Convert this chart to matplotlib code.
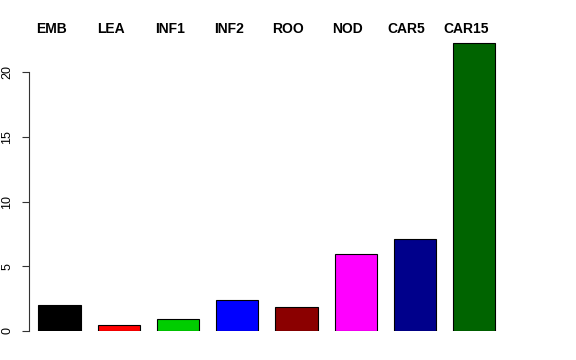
import matplotlib
matplotlib.use("Agg")
import matplotlib.pyplot as plt
import numpy as np

# bar heights
labels = ["EMB", "LEA", "INF1", "INF2", "ROO", "NOD", "CAR5", "CAR15"]
values = [2.0, 0.47, 0.9, 2.4, 1.88, 5.95, 7.11, 22.3]
colors = ["black", "red", "#00CD00", "blue", "#8B0000", "magenta", "#00008B", "#006400"]
yticks = [0, 5, 10, 15, 20]

plt.rcParams['font.family'] = ['Liberation Sans', 'DejaVu Sans']

fig = plt.figure(figsize=(5.76, 3.6), dpi=100)
# plot region placed to match the R device layout
ax = fig.add_axes([29 / 576, 29 / 360, (553 - 29) / 576, 300 / 360])

x = np.arange(len(values))
ax.bar(x, values, width=0.71, color=colors, edgecolor="black", linewidth=0.8)

ax.set_xlim(-0.515, 8.33)
ax.set_ylim(0, 23.2)

# R style axis: left only, spanning the tick range
for side in ["top", "right", "bottom"]:
    ax.spines[side].set_visible(False)
ax.spines["left"].set_bounds(0, 20)
ax.spines["left"].set_color("#333333")
ax.set_xticks([])
ax.set_yticks(yticks)
ax.set_yticklabels([str(t) for t in yticks], rotation=90, va="center", fontsize=9)
ax.tick_params(axis="y", length=5, pad=6.5, color="#333333")

# group names above the plot
for xi, lab in zip(x, labels):
    ax.text(xi - 0.14, 1.007, lab, transform=ax.get_xaxis_transform(),
            ha="center", va="center", fontsize=10, fontweight="bold", clip_on=False)

fig.savefig("out.png", dpi=100)
